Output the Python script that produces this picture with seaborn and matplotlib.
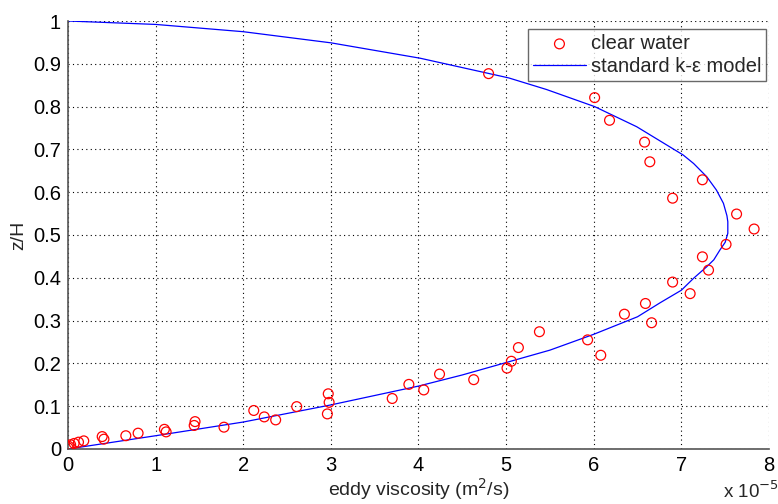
import numpy as np
import pandas as pd
import matplotlib
matplotlib.use("Agg")
import matplotlib.pyplot as plt
import matplotlib.ticker as mticker
import seaborn as sns

# ---- data (eddy viscosity in units of 1e-5 m^2/s, z/H) ----
SCALE = 1e-5
obs_nu = [4.80, 6.01, 6.18, 6.58, 6.64, 7.24, 6.90, 7.63, 7.83, 7.51, 7.24, 7.31,
          6.90, 7.10, 6.59, 6.35, 6.66, 5.93, 5.38, 5.14, 6.08, 5.06, 5.01, 4.24,
          4.63, 4.06, 3.89, 3.70, 2.97, 2.98, 2.96, 2.61, 2.37, 2.24, 2.12, 1.78,
          1.45, 1.44, 1.10, 1.12, 0.80, 0.66, 0.39, 0.41, 0.18, 0.12, 0.07, 0.03,
          0.01, 0.00]
obs_z = [0.877, 0.821, 0.768, 0.717, 0.671, 0.629, 0.586, 0.549, 0.514, 0.478, 0.449, 0.418,
         0.390, 0.363, 0.340, 0.315, 0.295, 0.255, 0.274, 0.237, 0.219, 0.205, 0.189, 0.175,
         0.162, 0.138, 0.151, 0.118, 0.129, 0.109, 0.082, 0.099, 0.068, 0.075, 0.090, 0.051,
         0.064, 0.055, 0.046, 0.040, 0.037, 0.031, 0.029, 0.023, 0.019, 0.016, 0.013, 0.010,
         0.006, 0.003]

model_nu = [0.0, 1.0, 2.0, 3.0, 4.0, 4.5, 5.0, 5.5, 6.0, 6.5, 6.76, 7.0, 7.14, 7.29,
            7.37, 7.44, 7.50, 7.53, 7.53, 7.52, 7.48, 7.40, 7.29, 7.14, 7.02, 6.49,
            6.01, 5.46, 5.03, 4.02, 3.0, 2.0, 1.0, 0.0]
model_z = [0.0, 0.031, 0.063, 0.103, 0.147, 0.173, 0.202, 0.231, 0.268, 0.309, 0.342,
           0.371, 0.399, 0.426, 0.442, 0.465, 0.483, 0.504, 0.531, 0.545, 0.574, 0.605,
           0.636, 0.667, 0.687, 0.753, 0.800, 0.840, 0.867, 0.913, 0.949, 0.975, 0.992, 1.0]

x_ticks = [0, 1, 2, 3, 4, 5, 6, 7, 8]
y_ticks = [0, 0.1, 0.2, 0.3, 0.4, 0.5, 0.6, 0.7, 0.8, 0.9, 1]
y_tick_labels = ["0", "0.1", "0.2", "0.3", "0.4", "0.5", "0.6", "0.7", "0.8", "0.9", "1"]

obs_df = pd.DataFrame({"nu": np.array(obs_nu) * SCALE, "z": obs_z})
mod_df = pd.DataFrame({"nu": np.array(model_nu) * SCALE, "z": model_z})

sns.set_style("white")
plt.rcParams["font.family"] = ["Liberation Sans", "DejaVu Sans"]

fig = plt.figure(figsize=(7.78, 5.04), dpi=100)
ax = fig.add_axes([68 / 778, 55 / 504, 701 / 778, 428 / 504])

sns.lineplot(data=mod_df, x="nu", y="z", sort=False, estimator=None, ax=ax,
             color=(0, 0, 1), lw=0.9, zorder=2, label="standard k-ε model")
sns.scatterplot(data=obs_df, x="nu", y="z", ax=ax, marker="o", s=50,
                facecolors="none", edgecolor=(1, 0, 0), linewidth=0.9, zorder=3,
                label="clear water")

ax.set_xlim(0, 8 * SCALE)
ax.set_ylim(0, 1)
ax.set_xticks(np.array(x_ticks) * SCALE)
ax.set_yticks(y_ticks)
ax.set_yticklabels(y_tick_labels)
ax.xaxis.set_major_formatter(mticker.FuncFormatter(lambda v, p: "%g" % round(v / SCALE, 6)))

ax.grid(True, color="black", linestyle=(0, (1, 3)), linewidth=0.8)
for s in ["top", "right"]:
    ax.spines[s].set_visible(False)
for s in ["left", "bottom"]:
    ax.spines[s].set_color("#555555")
    ax.spines[s].set_linewidth(1.2)
ax.tick_params(direction="in", length=4, width=1, colors="#555555",
               labelcolor="black", labelsize=14.5, pad=5)

ax.set_xlabel("eddy viscosity (m$^2$/s)", fontsize=14, labelpad=1)
ax.set_ylabel("z/H", fontsize=14, labelpad=4)
fig.text(723 / 778, 0.004, r"x 10$^{-5}$", fontsize=13.5, ha="left", va="bottom")

handles, labels = ax.get_legend_handles_labels()
order = [labels.index("clear water"), labels.index("standard k-ε model")]
leg = ax.legend([handles[i] for i in order], [labels[i] for i in order],
                loc="upper right", bbox_to_anchor=(0.996, 0.981), fontsize=14.5,
                frameon=True, fancybox=False, edgecolor="#444444",
                handlelength=2.6, borderpad=0.25, labelspacing=0.2, handletextpad=0.25,
                borderaxespad=0.0)
leg.get_frame().set_linewidth(1.0)

fig.savefig("out.png", dpi=100)
